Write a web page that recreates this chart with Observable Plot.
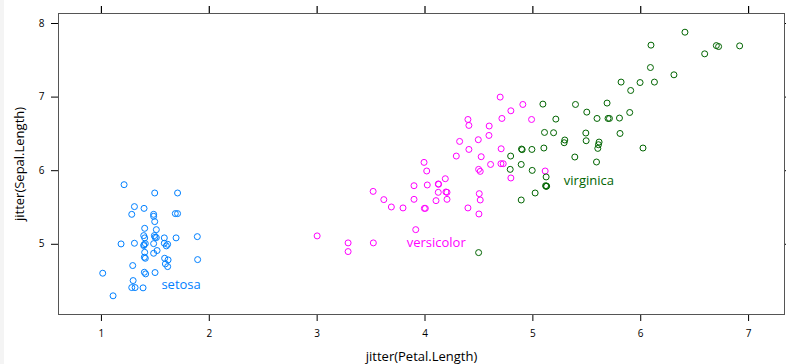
<!DOCTYPE html>
<html>
<head>
<meta charset="utf-8">
<script src="https://cdn.jsdelivr.net/npm/d3@7"></script>
<script src="https://cdn.jsdelivr.net/npm/@observablehq/plot@0.6"></script>
<style>
  html, body { margin: 0; padding: 0; background: #fff; }
  #chart { position: relative; }
  #strip { position: absolute; left: 0; top: 0; width: 4px; height: 364px; background: #f4f4f4; }
</style>
</head>
<body>
<div id="chart"><div id="strip"></div></div>
<script>
const species = ["setosa", "versicolor", "virginica"];
const colors = ["#0080ff", "#ff00ff", "#006400"];
const xTicks = [1, 2, 3, 4, 5, 6, 7];
const yTicks = [5, 6, 7, 8];

// jittered petal length / sepal length
const setosaPetal = [1.210,1.494,1.706,1.306,1.395,1.281,1.484,1.484,1.685,1.706,1.494,1.401,1.509,1.392,1.491,1.401,1.509,1.583,1.692,1.889,1.182,1.306,1.407,1.484,1.392,1.583,1.614,1.602,1.516,1.484,1.401,1.398,1.407,1.586,1.618,1.892,1.290,1.593,1.614,1.012,1.398,1.410,1.497,1.294,1.281,1.312,1.386,1.108,1.395,1.497];
const setosaSepal = [5.810,5.697,5.697,5.512,5.488,5.407,5.407,5.380,5.417,5.417,5.308,5.217,5.199,5.118,5.118,5.087,5.091,5.087,5.087,5.104,5.005,5.014,5.009,5.009,4.982,5.014,5.000,4.978,4.915,4.878,4.891,4.824,4.810,4.810,4.788,4.792,4.711,4.734,4.697,4.607,4.620,4.598,4.616,4.507,4.412,4.412,4.408,4.300,4.995,5.095];

const versicolorPetal = [4.321,4.290,3.991,4.016,4.188,3.898,4.021,4.123,3.519,4.123,4.194,4.204,3.618,3.898,4.102,4.204,3.688,3.796,3.994,4.003,3.914,3.000,3.287,3.521,3.287,4.697,4.907,4.796,4.398,4.407,4.713,4.988,4.595,4.593,4.494,4.407,4.706,4.521,4.608,4.704,4.725,4.497,4.512,4.796,5.114,4.503,4.512,4.398,4.500,4.126];
const versicolorSepal = [6.398,6.199,6.113,5.996,5.891,5.796,5.806,5.820,5.719,5.706,5.711,5.706,5.607,5.611,5.593,5.611,5.507,5.494,5.488,5.488,5.199,5.114,5.019,5.019,4.901,7.000,6.900,6.814,6.696,6.615,6.710,6.696,6.607,6.479,6.421,6.289,6.298,6.190,6.085,6.095,6.095,6.018,5.991,5.901,5.996,5.688,5.602,5.494,5.412,5.815];

const virginicaPetal = [6.410,6.095,6.701,6.722,6.917,6.593,6.090,6.308,5.818,5.994,6.127,5.907,5.093,5.395,5.688,5.500,5.898,5.213,5.595,5.697,5.710,5.803,5.108,5.192,5.491,5.808,5.296,5.290,5.494,5.614,5.608,5.602,5.102,6.021,5.389,5.590,5.123,5.118,5.123,4.895,4.901,4.991,4.794,4.892,4.790,4.994,5.021,4.892,4.497,5.128];
const virginicaSepal = [7.882,7.706,7.700,7.687,7.696,7.588,7.402,7.303,7.204,7.198,7.204,7.090,6.905,6.900,6.919,6.796,6.791,6.701,6.710,6.710,6.710,6.715,6.520,6.516,6.512,6.506,6.417,6.380,6.407,6.389,6.353,6.303,6.308,6.308,6.186,6.118,5.915,5.796,5.787,6.294,6.286,6.289,6.199,6.085,6.018,6.004,5.697,5.602,4.887,5.790];

// direct label anchor points (data units)
const labelPetal = [1.556, 3.830, 5.287];
const labelSepal = [4.453, 5.023, 5.864];

const petals = [setosaPetal, versicolorPetal, virginicaPetal];
const sepals = [setosaSepal, versicolorSepal, virginicaSepal];
const points = species.flatMap((s, i) => petals[i].map((p, j) => ({species: s, petal: p, sepal: sepals[i][j]})));
const labels = species.map((s, i) => ({species: s, petal: labelPetal[i], sepal: labelSepal[i]}));

const font = "'Open Sans', 'Noto Sans', sans-serif";
const fmt = d3.format("d");
const xDomain = [0.602, 7.333];
const yDomain = [4.046, 8.136];
const tickLen = 7;
const yPerPx = (yDomain[1] - yDomain[0]) / (364 - 13 - 50);

const chart = Plot.plot({
  width: 786,
  height: 364,
  marginLeft: 58,
  marginRight: 2,
  marginTop: 13,
  marginBottom: 50,
  x: {domain: xDomain},
  y: {domain: yDomain},
  color: {domain: species, range: colors},
  marks: [
    // top ticks (no labels), sticking out above the panel
    Plot.ruleX(xTicks, {x: d => d, y1: yDomain[1], y2: yDomain[1] + tickLen * yPerPx, stroke: "#000", strokeWidth: 1.2, clip: false}),
    Plot.axisY(yTicks, {anchor: "right", tickSize: 7, stroke: "#000", text: null, label: null}),
    Plot.axisX(xTicks, {anchor: "bottom", tickSize: 7, tickPadding: 8, stroke: "#000", tickFormat: fmt, label: "jitter(Petal.Length)", labelAnchor: "center", labelArrow: "none", labelOffset: 46, fontSize: 10}),
    Plot.axisY(yTicks, {anchor: "left", tickSize: 7, tickPadding: 7, stroke: "#000", tickFormat: fmt, label: "jitter(Sepal.Length)", labelAnchor: "center", labelArrow: "none", labelOffset: 44, fontSize: 10}),
    Plot.frame({stroke: "#555", strokeWidth: 1}),
    Plot.dot(points, {x: "petal", y: "sepal", stroke: "species", fill: "none", r: 3, strokeWidth: 1}),
    Plot.text(labels, {x: "petal", y: "sepal", text: "species", fill: "species", textAnchor: "start", fontSize: 13})
  ]
});
chart.setAttribute("font-family", font);
chart.setAttribute("color", "#000");
document.getElementById("chart").insertBefore(chart, document.getElementById("strip"));
// axis title size
chart.querySelectorAll("g[aria-label='x-axis label'] text, g[aria-label='y-axis label'] text").forEach(t => t.setAttribute("font-size", "13"));
</script>
</body>
</html>
